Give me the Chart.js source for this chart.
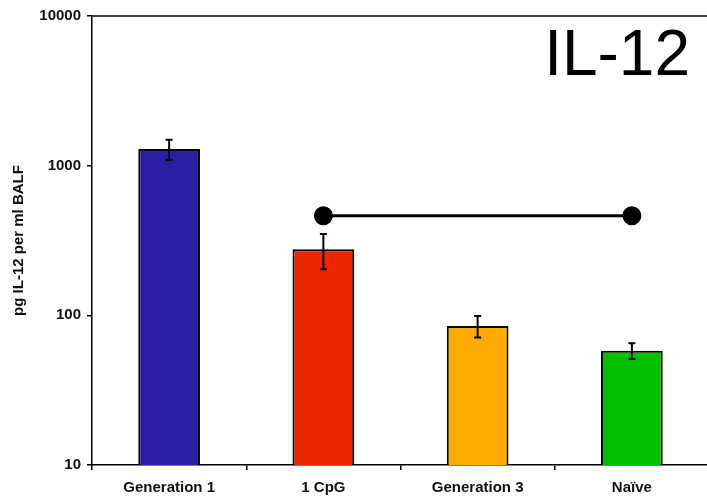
<!DOCTYPE html>
<html>
<head>
<meta charset="utf-8">
<script src="https://cdn.jsdelivr.net/npm/chart.js@4"></script>
<style>
  html, body { margin: 0; padding: 0; background: #fff; overflow: hidden; }
  #wrap { position: absolute; left: 0; top: 0; width: 720px; height: 497px; }
  #chart { display: block; width: 720px; height: 497px; }
</style>
</head>
<body>
<div id="wrap"><canvas id="chart" width="720" height="497"></canvas></div>
<script>
// values
const categories = ['Generation 1', '1 CpG', 'Generation 3', 'Naïve'];
const values = [1290, 276, 85, 58];
const errors = [200, 73, 14, 7];
const barColors = ['#2b1fa6', '#ee2600', '#ffaa00', '#00c000'];
const yTicks = [10, 100, 1000, 10000];
// bracket line between 1 CpG and Naïve
const bracket = [null, 463, null, 463];

// error bars drawn on top of bars
const errorBars = {
  id: 'errorBars',
  afterDatasetsDraw(chart) {
    const meta = chart.getDatasetMeta(1);
    const y = chart.scales.y;
    const ctx = chart.ctx;
    ctx.save();
    ctx.strokeStyle = '#000';
    ctx.lineWidth = 2;
    meta.data.forEach((bar, i) => {
      const top = y.getPixelForValue(values[i] + errors[i]);
      const bot = y.getPixelForValue(values[i] - errors[i]);
      ctx.beginPath();
      ctx.moveTo(bar.x, top); ctx.lineTo(bar.x, bot);
      ctx.moveTo(bar.x - 3.5, top); ctx.lineTo(bar.x + 3.5, top);
      ctx.moveTo(bar.x - 3.5, bot); ctx.lineTo(bar.x + 3.5, bot);
      ctx.stroke();
    });
    ctx.restore();
  }
};

// top frame line + big title
const frame = {
  id: 'frame',
  afterDraw(chart) {
    const { ctx, chartArea: a } = chart;
    ctx.save();
    ctx.strokeStyle = '#000';
    ctx.lineWidth = 1.5;
    ctx.beginPath();
    ctx.moveTo(a.left, a.top);
    ctx.lineTo(a.right, a.top);
    ctx.lineTo(a.right, a.bottom);
    ctx.stroke();
    ctx.fillStyle = '#000';
    ctx.font = '64px "Liberation Sans", Arial, sans-serif';
    ctx.textAlign = 'right';
    ctx.textBaseline = 'alphabetic';
    ctx.fillText('IL-12', 690, 75);
    ctx.restore();
  }
};

new Chart(document.getElementById('chart'), {
  type: 'bar',
  data: {
    labels: categories,
    datasets: [
      {
        type: 'line',
        data: bracket,
        spanGaps: true,
        borderColor: '#000',
        borderWidth: 3,
        pointRadius: 8,
        pointBackgroundColor: '#000',
        pointBorderColor: '#000',
        order: 0
      },
      {
        data: values,
        backgroundColor: barColors,
        borderColor: '#000',
        borderWidth: 2,
        barPercentage: 0.8,
        categoryPercentage: 0.5,
        order: 1
      }
    ]
  },
  options: {
    responsive: false,
    animation: false,
    layout: { padding: { top: 16, right: 6, left: 0, bottom: 0 } },
    plugins: { legend: { display: false }, tooltip: { enabled: false } },
    scales: {
      x: {
        offset: true,
        grid: { offset: true, drawOnChartArea: false, tickLength: 5, color: '#000', lineWidth: 1.5 },
        border: { color: '#000', width: 1.5 },
        ticks: { color: '#111', font: { family: '"Liberation Sans", Arial', size: 15, weight: 'bold' }, padding: 9, maxRotation: 0 },
        afterFit(s) { s.height = 32; }
      },
      y: {
        type: 'logarithmic',
        min: 10,
        max: 10000,
        afterBuildTicks(s) { s.ticks = yTicks.map(v => ({ value: v })); },
        grid: { drawOnChartArea: false, tickLength: 5, color: '#000', lineWidth: 1.5 },
        border: { color: '#000', width: 1.5 },
        ticks: { color: '#111', font: { family: '"Liberation Sans", Arial', size: 15, weight: 'bold' }, padding: 6, callback: v => String(v) },
        title: { display: true, text: 'pg IL-12 per ml BALF', color: '#111', font: { family: '"Liberation Sans", Arial', size: 15, weight: 'bold' }, padding: { top: 10, bottom: 0 } },
        afterFit(s) { s.width = 92; }
      }
    }
  },
  plugins: [errorBars, frame]
});
</script>
</body>
</html>
